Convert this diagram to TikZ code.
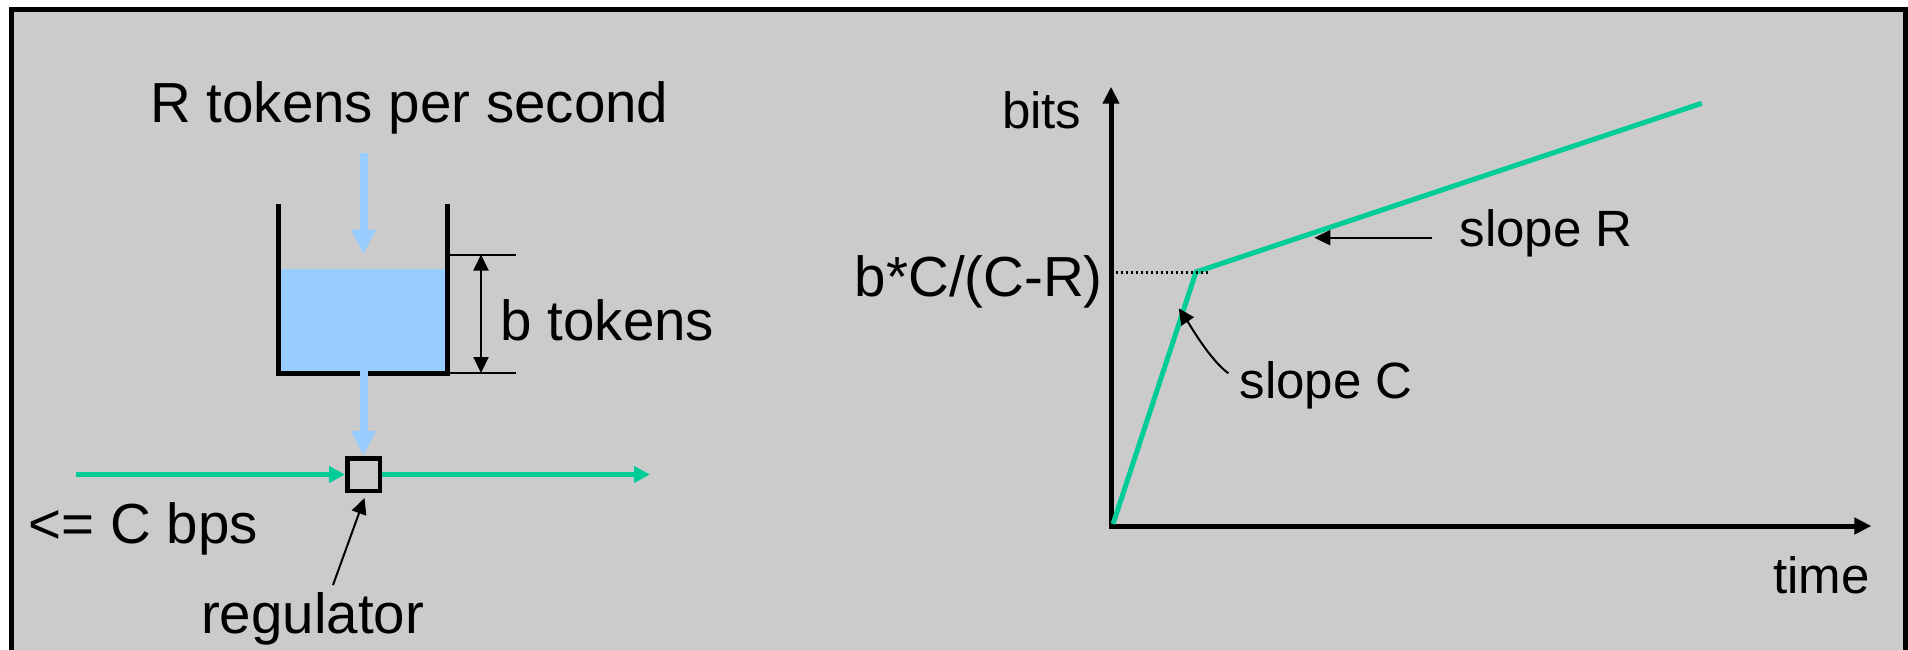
\documentclass[tikz,border=0pt]{standalone}
\usepackage{fontspec}
\setmainfont{Liberation Sans}
\usetikzlibrary{arrows.meta}
\definecolor{bg}{RGB}{203,203,203}
\definecolor{water}{RGB}{153,204,255}
\definecolor{flow}{RGB}{0,204,153}
\begin{document}
\begin{tikzpicture}[x=1pt,y=-1pt,
  lbl/.style={inner sep=0pt, font=\fontsize{56.5}{66}\selectfont},
  glbl/.style={inner sep=0pt, font=\fontsize{51}{60}\selectfont},
  bluearrow/.style={draw=water, line width=8pt, -{Triangle[length=25pt,width=23pt]}},
  greenarrow/.style={draw=flow, line width=5pt, -{Triangle[length=16pt,width=16pt]}},
  thinarrow/.style={draw=black, line width=2pt, -{Triangle[length=16pt,width=15pt]}},
  thinline/.style={draw=black, line width=2pt},
  axisline/.style={draw=black, line width=5pt, {Triangle[length=17pt,width=16pt]}-{Triangle[length=17pt,width=16pt]}},
  curve/.style={draw=flow, line width=5pt, line join=miter},
  dotline/.style={draw=black, line width=3pt, dash pattern=on 2.5pt off 2.5pt},
]
\useasboundingbox (0,0) rectangle (1908,649);
\clip (0,0) rectangle (1908,649);
\fill[white] (0,0) rectangle (1908,649);
\draw[line width=5.5pt, fill=bg] (11.3,9.5) rectangle (1906,720);

% ---- token bucket ----
\coordinate (inTop) at (363.5,153);
\coordinate (inTip) at (363.5,254.5);
\fill[water] (281,269) rectangle (445,371);
\draw[line width=5pt] (278.7,204) -- (278.7,373) -- (447.4,373) -- (447.4,204);
\draw[bluearrow] (inTop) -- (inTip);

\node[draw, line width=4.5pt, minimum size=32.5pt, inner sep=0pt] (reg) at (363.5,474.5) {};
\coordinate (bucketOut) at (363.5,366);
\draw[bluearrow] (bucketOut) -- (reg.north);

\coordinate (gIn) at (76,474.5);
\coordinate (gOut) at (650,474.5);
\draw[greenarrow] (gIn) -- (reg.west);
\draw[greenarrow] (reg.east) -- (gOut);

% dimension b tokens
\coordinate (dimTopA) at (450,254.5);
\coordinate (dimTopB) at (516,254.5);
\coordinate (dimBotA) at (450,373);
\coordinate (dimBotB) at (516,373);
\coordinate (dimTop) at (481,254.5);
\coordinate (dimBot) at (481,373);
\draw[thinline] (dimTopA) -- (dimTopB);
\draw[thinline] (dimBotA) -- (dimBotB);
\draw[thinline, {Triangle[length=16pt,width=15pt]}-{Triangle[length=16pt,width=15pt]}] (dimTop) -- (dimBot);

% regulator pointer
\coordinate (regTail) at (333,585);
\coordinate (regTip) at (364.5,498);
\draw[thinarrow] (regTail) -- (regTip);

\node[lbl, anchor=base west] (rtok) at (150,122) {R tokens per second};
\node[lbl, anchor=base west] (btok) at (500.5,340) {b tokens};
\node[lbl, anchor=base west] (cbps) at (28.5,543) {<= C bps};
\node[lbl, anchor=base] (regl) at (312.6,633) {regulator};

% ---- graph ----
\coordinate (O) at (1111,526);
\coordinate (yTop) at (1111,86.7);
\coordinate (xEnd) at (1871.4,526);
\draw[axisline] (yTop) -- (O) -- (xEnd);

\coordinate (g0) at (1113,524);
\coordinate (knee) at (1196,272);
\coordinate (g2) at (1701.7,103.3);
\draw[curve] (g0) -- (knee) -- (g2);

\coordinate (dotStart) at (1115.5,272);
\coordinate (dotEnd) at (1209,272);
\draw[dotline] (dotStart) -- (dotEnd);

\coordinate (sRtail) at (1431.7,237.7);
\coordinate (sRtip) at (1314.3,237.7);
\draw[thinarrow] (sRtail) -- (sRtip);

\coordinate (sCtail) at (1228.4,373.3);
\coordinate (sCtip) at (1178.7,308.3);
\coordinate (sCc1) at (1210,360);
\coordinate (sCc2) at (1190,325);
\draw[thinarrow] (sCtail) .. controls (sCc1) and (sCc2) .. (sCtip);

\node[glbl, anchor=base east] (bits) at (1081.6,128) {bits};
\node[lbl, anchor=base east] (bcr) at (1103,296) {b*C/(C-R)};
\node[glbl, anchor=base east] (time) at (1870,593) {time};
\node[glbl, anchor=base west] (slR) at (1459.5,246) {slope R};
\node[glbl, anchor=base west] (slC) at (1239.5,398) {slope C};
\end{tikzpicture}
\end{document}
